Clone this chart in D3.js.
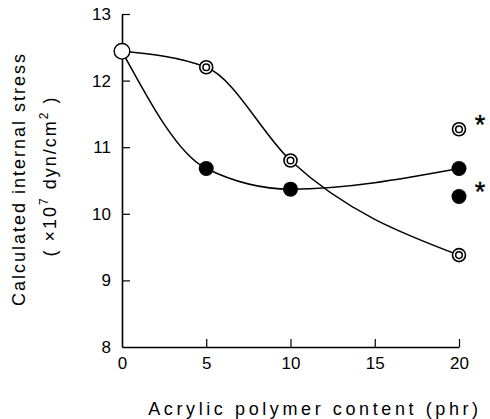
<!DOCTYPE html>
<html><head><meta charset="utf-8">
<script src="https://cdn.jsdelivr.net/npm/d3@7"></script>
<style>body{margin:0;background:#fff}svg{display:block}text{font-family:"Liberation Sans",Arial,sans-serif;fill:#000}</style>
</head><body><svg id="c" width="490" height="419"></svg>
<script>
// Data
const xTicks = [0, 5, 10, 15, 20];
const yTicks = [8, 9, 10, 11, 12, 13];
const openX = [0, 5, 10, 20];
const openY = [12.44, 12.2, 10.8, 9.38];
const filledX = [0, 5, 10, 20];
const filledY = [12.44, 10.68, 10.37, 10.68];
const starOpen = [20, 11.27];
const starFilled = [20, 10.26];

const svg = d3.select("#c");
const x = d3.scaleLinear().domain([0, 20]).range([122, 459]);
const y = d3.scaleLinear().domain([8, 13]).range([347, 14]);

// axes
const gy = svg.append("g").attr("transform", `translate(${x(0)},0)`)
  .call(d3.axisLeft(y).tickValues(yTicks).tickSizeInner(-8).tickSizeOuter(0).tickPadding(11).tickFormat(d3.format("d")));
const gx = svg.append("g").attr("transform", `translate(0,${y(8)})`)
  .call(d3.axisBottom(x).tickValues(xTicks).tickSizeInner(-8).tickSizeOuter(0).tickPadding(10).tickFormat(d3.format("d")));
[gx, gy].forEach(g => {
  g.select(".domain").attr("stroke-width", 1.6);
  g.selectAll(".tick line").attr("stroke-width", 1.2);
  g.selectAll("text").attr("font-size", 17).attr("font-family", '"Liberation Sans",Arial,sans-serif');
});
gy.selectAll(".tick").filter(d => d === 8).select("line").remove();
gx.selectAll(".tick").filter(d => d === 0).select("line").remove();

// curves
const line = d3.line().x(d => x(d[0])).y(d => y(d[1])).curve(d3.curveMonotoneX);
svg.append("path").datum(filledX.map((v, i) => [v, filledY[i]])).attr("d", line)
  .attr("fill", "none").attr("stroke", "#000").attr("stroke-width", 1.5);
svg.append("path").datum(openX.map((v, i) => [v, openY[i]])).attr("d", line)
  .attr("fill", "none").attr("stroke", "#000").attr("stroke-width", 1.5);

// markers
function dbl(cx, cy) {
  svg.append("circle").attr("cx", cx).attr("cy", cy).attr("r", 6.5).attr("fill", "#fff").attr("stroke", "#000").attr("stroke-width", 1.6);
  svg.append("circle").attr("cx", cx).attr("cy", cy).attr("r", 3.3).attr("fill", "none").attr("stroke", "#000").attr("stroke-width", 1.5);
}
function filled(cx, cy) {
  svg.append("circle").attr("cx", cx).attr("cy", cy).attr("r", 7.5).attr("fill", "#000");
}
filledX.slice(1).forEach((v, i) => filled(x(v), y(filledY[i + 1])));
openX.slice(1).forEach((v, i) => dbl(x(v), y(openY[i + 1])));
svg.append("circle").attr("cx", x(openX[0])).attr("cy", y(openY[0])).attr("r", 7.8)
  .attr("fill", "#fff").attr("stroke", "#000").attr("stroke-width", 1.4);
dbl(x(starOpen[0]), y(starOpen[1]));
filled(x(starFilled[0]), y(starFilled[1]));
[starOpen, starFilled].forEach(s => {
  svg.append("text").attr("x", x(s[0]) + 21).attr("y", y(s[1]) + 5).attr("font-size", 27)
    .attr("text-anchor", "middle").attr("stroke", "#000").attr("stroke-width", 0.4).text("*");
});

// titles
svg.append("text").attr("x", 315).attr("y", 415).attr("text-anchor", "middle").attr("font-size", 18)
  .attr("letter-spacing", 3.6).text("Acrylic polymer content (phr)");
svg.append("text").attr("transform", "translate(25,179) rotate(-90)").attr("text-anchor", "middle").attr("font-size", 18)
  .attr("letter-spacing", 2).text("Calculated internal stress");
const t2 = svg.append("text").attr("transform", "translate(56,176) rotate(-90)").attr("text-anchor", "middle").attr("font-size", 18)
  .attr("letter-spacing", 2);
t2.append("tspan").text("( ×10");
t2.append("tspan").attr("dy", -8).attr("font-size", 12).text("7");
t2.append("tspan").attr("dy", 8).text(" dyn/cm");
t2.append("tspan").attr("dy", -8).attr("font-size", 12).text("2");
t2.append("tspan").attr("dy", 8).text(" )");
</script></body></html>
